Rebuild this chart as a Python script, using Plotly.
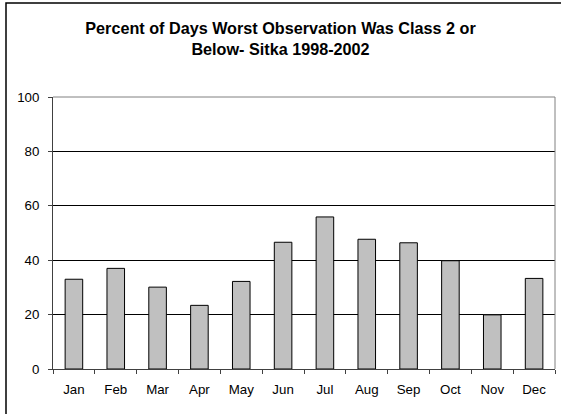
import plotly.graph_objects as go

months = ["Jan", "Feb", "Mar", "Apr", "May", "Jun", "Jul", "Aug", "Sep", "Oct", "Nov", "Dec"]
percent_days = [33.0, 37.0, 30.1, 23.4, 32.2, 46.6, 55.9, 47.7, 46.4, 39.8, 19.9, 33.3]
y_ticks = [0, 20, 40, 60, 80, 100]
title_text = "Percent of Days Worst Observation Was Class 2 or<br>Below- Sitka 1998-2002"

W, H = 561, 414
L, R, T, B = 53, 6, 97, 45
pw, ph = W - L - R, H - T - B

font = "Liberation Sans, Arial, sans-serif"

fig = go.Figure(go.Bar(
    x=months, y=percent_days,
    marker=dict(color="#C0C0C0", line=dict(color="#000000", width=1)),
    width=0.42,
))

fig.update_layout(
    width=W, height=H,
    margin=dict(l=L, r=R, t=T, b=B, pad=0),
    paper_bgcolor="white", plot_bgcolor="white",
    showlegend=False,
    title=dict(text=f"<b>{title_text}</b>", x=0.5, xanchor="center",
               xref="container", y=1 - 34 / H, yref="container", yanchor="middle",
               font=dict(family=font, size=16.2, color="black")),
    font=dict(family=font, size=13.3, color="black"),
    bargap=0.58,
)

fig.update_xaxes(
    type="category", showgrid=False, showline=True, linecolor="#404040", linewidth=1,
    ticks="outside", tickson="boundaries", ticklen=4, tickcolor="#404040",
    ticklabelstandoff=8,
    tickfont=dict(family=font, size=13.3, color="black"),
)
fig.update_yaxes(
    range=[0, 100], tickvals=y_ticks, showgrid=True, gridcolor="#000000", gridwidth=1,
    zeroline=False, showline=True, linecolor="#404040", linewidth=1,
    ticks="outside", ticklen=4, tickcolor="#404040", ticklabelstandoff=6,
    tickfont=dict(family=font, size=13.3, color="black"),
)

# plot-area frame (top and right) in gray
fig.add_shape(type="path", xref="paper", yref="paper",
              path="M 0,1 L 1,1 L 1,0", line=dict(color="#808080", width=1), layer="above")

# outer chart border (left and top visible, right/bottom cropped)
fig.add_shape(type="rect", xref="paper", yref="paper",
              x0=(6 - L) / pw, x1=(W + 20 - L) / pw,
              y0=-(H + 20 - (T + ph)) / ph, y1=(T + ph - 3) / ph,
              line=dict(color="#000000", width=1.5), layer="above")

fig.write_html("out.html", config={"displayModeBar": False},
               post_script="document.body.style.margin='0';document.body.style.overflow='hidden';")
